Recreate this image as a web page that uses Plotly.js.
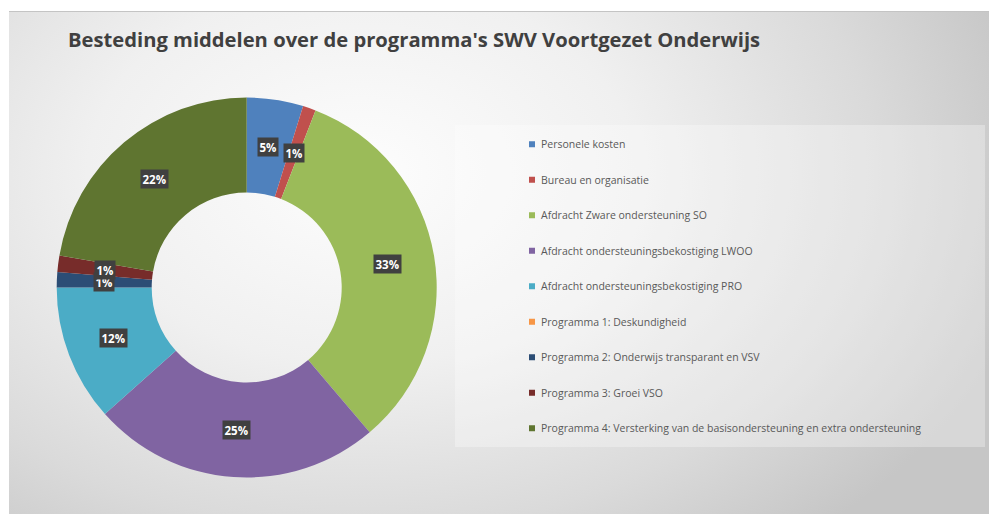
<!DOCTYPE html>
<html>
<head>
<meta charset="utf-8">
<script src="https://cdn.plot.ly/plotly-3.0.1.min.js"></script>
<style>
  html, body { margin: 0; padding: 0; background: #ffffff; width: 989px; height: 514px; overflow: hidden; }
  #bg { position: absolute; left: 9px; top: 11px; width: 980px; height: 503px;
        border-top: 1px solid #c4c4c4;
        background: radial-gradient(ellipse 70% 95% at 36% 32%, #fdfdfd 0%, #f0f0f0 40%, #dadada 75%, #c6c6c6 100%); }
  #chart { position: absolute; left: 0; top: 0; width: 989px; height: 514px; }
</style>
</head>
<body>
<div id="bg"></div>
<div id="chart"></div>
<script>
// ---- data ----
const categories = [
  "Personele kosten",
  "Bureau en organisatie",
  "Afdracht Zware ondersteuning SO",
  "Afdracht ondersteuningsbekostiging LWOO",
  "Afdracht ondersteuningsbekostiging PRO",
  "Programma 1: Deskundigheid",
  "Programma 2: Onderwijs transparant en VSV",
  "Programma 3: Groei VSO",
  "Programma 4: Versterking van de basisondersteuning en extra ondersteuning"
];
const shares = [4.8, 1.1, 32.9, 24.6, 11.6, 0, 1.3, 1.4, 22.3];
const sliceColors = ["#4F81BD", "#C0504D", "#9BBB59", "#8064A2", "#4BACC6", "#F79646", "#2C4D75", "#772C2A", "#5F7530"];
const chartTitle = "Besteding middelen over de programma's SWV Voortgezet Onderwijs";

// ---- layout geometry ----
const W = 989, H = 514;
const cxPx = 246.7, cyPx = 287.5, rPx = 190, holeFrac = 0.5;

const total = shares.reduce((a, b) => a + b, 0);
const annotations = [];
let cum = 0;
const rMid = rPx * (1 + holeFrac) / 2;
shares.forEach((v) => {
  if (v > 0) {
    const mid = (cum + v / 2) / total * 2 * Math.PI;
    const px = cxPx + rMid * Math.sin(mid);
    const py = cyPx - rMid * Math.cos(mid);
    annotations.push({
      x: px / W, y: 1 - py / H, xref: 'paper', yref: 'paper',
      xanchor: 'center', yanchor: 'middle',
      text: Math.round(v / total * 100) + '%',
      showarrow: false,
      font: { family: 'Open Sans, sans-serif', size: 11.5, color: '#ffffff', weight: 'bold' },
      bgcolor: '#404040', borderpad: 1.5
    });
  }
  cum += v;
});

const trace = {
  type: 'pie',
  labels: categories.map(c => '<span style="font-size:10.5px">' + c + '</span>'),
  values: shares,
  hole: holeFrac,
  sort: false,
  direction: 'clockwise',
  rotation: 0,
  textinfo: 'none',
  hoverinfo: 'none',
  marker: { colors: sliceColors, line: { width: 0 } },
  domain: { x: [(cxPx - rPx) / W, (cxPx + rPx) / W], y: [1 - (cyPx + rPx) / H, 1 - (cyPx - rPx) / H] }
};

const layout = {
  width: W, height: H,
  margin: { l: 0, r: 0, t: 0, b: 0 },
  paper_bgcolor: 'rgba(0,0,0,0)',
  plot_bgcolor: 'rgba(0,0,0,0)',
  title: {
    text: chartTitle,
    x: 68 / W, xanchor: 'left', xref: 'paper',
    y: 1 - 40 / H, yanchor: 'middle', yref: 'container',
    font: { family: 'Open Sans, sans-serif', size: 20.2, color: '#404040', weight: 'bold' }
  },
  showlegend: true,
  legend: {
    x: 501 / W, xanchor: 'left',
    y: 1 - 121.5 / H, yanchor: 'top',
    bgcolor: 'rgba(0,0,0,0)',
    font: { family: 'Open Sans, sans-serif', size: 25, color: '#595959' },
    traceorder: 'normal'
  },
  shapes: [{
    type: 'rect', xref: 'paper', yref: 'paper', layer: 'below',
    x0: 455 / W, x1: 985 / W, y0: 1 - 447 / H, y1: 1 - 125 / H,
    fillcolor: 'rgba(255,255,255,0.3)', line: { width: 0 }
  }],
  annotations: annotations
};

Plotly.newPlot('chart', [trace], layout, { staticPlot: true }).then(gd => {
  gd.querySelectorAll('.legend path.legendpie').forEach(p => {
    p.setAttribute('d', 'M3,3H-3V-3H3Z');
    p.setAttribute('transform', 'translate(31,0)');
  });
  gd.querySelectorAll('.legend text.legendtext').forEach(t => {
    const y = parseFloat(t.getAttribute('y') || '0');
    t.setAttribute('y', y - 6);
  });
});
</script>
</body>
</html>
